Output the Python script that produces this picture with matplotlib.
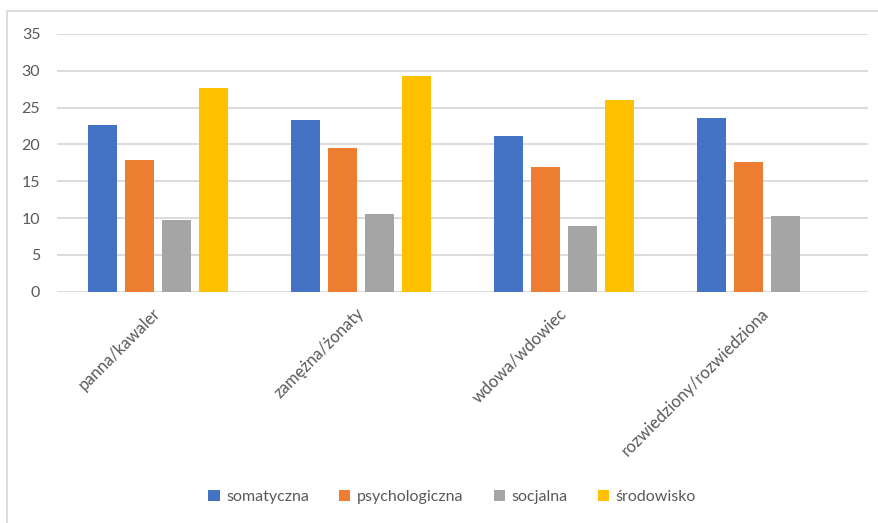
import numpy as np
import matplotlib.pyplot as plt
from matplotlib.patches import Rectangle

plt.rcParams['font.family'] = ['Lato', 'DejaVu Sans']

groups = ['panna/kawaler', 'zamężna/żonaty', 'wdowa/wdowiec', 'rozwiedziony/rozwiedziona']
series = ['somatyczna', 'psychologiczna', 'socjalna', 'środowisko']
somatyczna = [22.6, 23.3, 21.1, 23.55]
psychologiczna = [17.85, 19.5, 16.9, 17.6]
socjalna = [9.75, 10.55, 8.95, 10.3]
srodowisko = [27.6, 29.25, 26.1, np.nan]
colors = ['#4472C4', '#ED7D31', '#A5A5A5', '#FFC000']

fig = plt.figure(figsize=(8.79, 5.23), dpi=100)
ax = fig.add_axes([0.0648, 0.4423, 0.9227, 0.4927])

# outer chart frame (runs off the right and bottom edge)
fig.patches.append(Rectangle((7 / 879, -0.05), 1.05, 1 - 11 / 523 + 0.05,
                             transform=fig.transFigure, fill=False,
                             edgecolor='#D9D9D9', linewidth=1.3, zorder=0))

x = np.arange(len(groups))
width = 0.143
step = 0.1825
for i, (name, vals) in enumerate(zip(series, [somatyczna, psychologiczna, socjalna, srodowisko])):
    ax.bar(x + (i - 1.5) * step, vals, width, color=colors[i], label=name, zorder=3)

ax.set_xlim(-0.5, len(groups) - 0.5)
ax.set_ylim(0, 35)
ax.set_yticks(range(0, 36, 5))
ax.yaxis.grid(True, color='#D9D9D9', linewidth=1.3, zorder=0)
ax.set_axisbelow(True)
for s in ax.spines.values():
    s.set_visible(False)

ax.tick_params(axis='y', length=0, pad=12, labelsize=11.5, labelcolor='#595959')
ax.tick_params(axis='x', length=0, pad=14, labelsize=12, labelcolor='#595959')
ax.set_xticks(x)
ax.set_xticklabels(groups, rotation=45, ha='right', va='center', rotation_mode='anchor')

leg = fig.legend(loc='center', bbox_to_anchor=(452 / 879, 1 - 497 / 523), ncol=4,
                 frameon=False, fontsize=11.5, handlelength=0.7, handleheight=0.7,
                 handletextpad=0.4, columnspacing=1.9, labelcolor='#595959')

fig.savefig('out.png', dpi=100)
